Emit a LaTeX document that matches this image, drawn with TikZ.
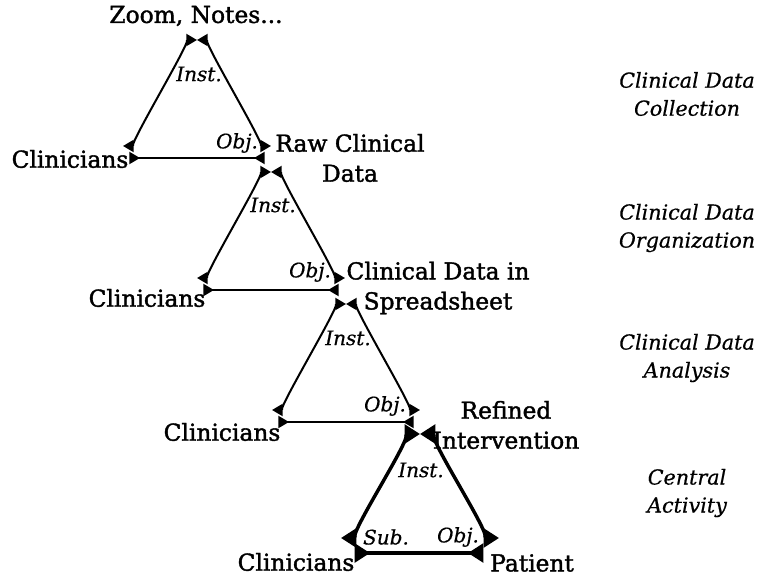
\documentclass[tikz,border=0pt]{standalone}
\usepackage{fontspec}
\setmainfont{DejaVu Serif}
\newfontfamily\actorfont{DejaVu Serif}[FakeBold=1.6]
\newfontfamily\notefont{DejaVu Serif}[FakeBold=0.6]
\usetikzlibrary{arrows.meta}

\tikzset{
  >={Triangle[length=8pt,width=9pt]},
  link/.style={<->, line width=1.5pt},
  centrallink/.style={>={Triangle[length=11.5pt,width=14pt]}, <->, line width=2.6pt},
  actor/.style={font=\actorfont\fontsize{17.5}{22.5}\selectfont, align=center, inner sep=0pt},
  rolelbl/.style={font=\notefont\fontsize{15}{20}\selectfont\itshape, inner sep=0pt},
  stage/.style={font=\notefont\fontsize{15.5}{21}\selectfont\itshape, align=center, inner sep=0pt}
}

\begin{document}
\begin{tikzpicture}[x=0.75pt,y=-0.75pt]
\useasboundingbox (0,0) rectangle (757,577);
% collection
\coordinate (a1) at (197,40);
\coordinate (l1) at (123,146);
\coordinate (r1) at (271,146);
\coordinate (p1) at (140,158);
\coordinate (q1) at (254,158);
\draw[link] (l1) to[out=0,in=180,looseness=.1] (a1);
\draw[link] (a1) to[out=0,in=180,looseness=.1] (r1);
\draw[link] (p1) to[out=180,in=0,looseness=.1] (q1);
\node (tool1) at (196,16) [actor] {Zoom, Notes...};
\node (sub1) at (70,159) [actor] {Clinicians};
\node (obj1) at (350,158) [actor] {Raw Clinical\\Data};
\node (inst1) at (199,74) [rolelbl] {Inst.};
\node (objl1) at (237,143) [rolelbl] {Obj.};
\node (stage1) at (687,94) [stage] {Clinical Data\\Collection};
% organization
\coordinate (a2) at (271,172);
\coordinate (l2) at (197,278);
\coordinate (r2) at (345,278);
\coordinate (p2) at (214,290);
\coordinate (q2) at (328,290);
\draw[link] (l2) to[out=0,in=180,looseness=.1] (a2);
\draw[link] (a2) to[out=0,in=180,looseness=.1] (r2);
\draw[link] (p2) to[out=180,in=0,looseness=.1] (q2);
\node (sub2) at (147,298) [actor] {Clinicians};
\node (obj2) at (438,288) [actor] {Clinical Data in\\Spreadsheet};
\node (inst2) at (273,205) [rolelbl] {Inst.};
\node (objl2) at (310,272) [rolelbl] {Obj.};
\node (stage2) at (687,228) [stage] {Clinical Data\\Organization};
% analysis
\coordinate (a3) at (346,304);
\coordinate (l3) at (272,410);
\coordinate (r3) at (420,410);
\coordinate (p3) at (289,422);
\coordinate (q3) at (403,422);
\draw[link] (l3) to[out=0,in=180,looseness=.1] (a3);
\draw[link] (a3) to[out=0,in=180,looseness=.1] (r3);
\draw[link] (p3) to[out=180,in=0,looseness=.1] (q3);
\node (sub3) at (222,432) [actor] {Clinicians};
\node (obj3) at (506,425) [actor] {Refined\\Intervention};
\node (inst3) at (348,338) [rolelbl] {Inst.};
\node (objl3) at (385,406) [rolelbl] {Obj.};
\node (stage3) at (687,358) [stage] {Clinical Data\\Analysis};
% central activity
\coordinate (a4) at (420,434);
\coordinate (l4) at (341,538);
\coordinate (r4) at (499,538);
\coordinate (p4) at (370,553);
\coordinate (q4) at (468,553);
\draw[centrallink] (l4) to[out=0,in=180,looseness=.1] (a4);
\draw[centrallink] (a4) to[out=0,in=180,looseness=.1] (r4);
\draw[centrallink] (p4) to[out=180,in=0,looseness=.1] (q4);
\node (sub4) at (296,562) [actor] {Clinicians};
\node (obj4) at (532,563) [actor] {Patient};
\node (inst4) at (421,470) [rolelbl] {Inst.};
\node (subl4) at (386,537) [rolelbl] {Sub.};
\node (objl4) at (458,537) [rolelbl] {Obj.};
\node (stage4) at (687,493) [stage] {Central\\Activity};
\end{tikzpicture}
\end{document}
